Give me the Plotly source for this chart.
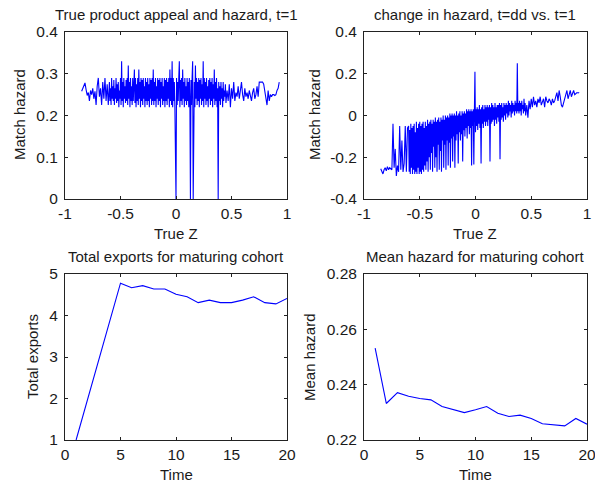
import plotly.graph_objects as go
from plotly.subplots import make_subplots

# True Z values (shared by both top panels)
true_z = [
    -0.85, -0.84, -0.83, -0.82, -0.81, -0.80, -0.79, -0.78, -0.77, -0.76,
    -0.75, -0.74, -0.73, -0.72, -0.71, -0.70, -0.69, -0.68, -0.67, -0.66,
    -0.65, -0.64, -0.63, -0.62, -0.61,
    -0.600, -0.595, -0.590, -0.585, -0.580, -0.575, -0.570, -0.565, -0.560, -0.555,
    -0.550, -0.545, -0.540, -0.535, -0.530, -0.525, -0.520, -0.515, -0.510, -0.505,
    -0.500, -0.495, -0.490, -0.485, -0.480, -0.475, -0.470, -0.465, -0.460, -0.455,
    -0.450, -0.445, -0.440, -0.435, -0.430, -0.425, -0.420, -0.415, -0.410, -0.405,
    -0.400, -0.395, -0.390, -0.385, -0.380, -0.375, -0.370, -0.365, -0.360, -0.355,
    -0.350, -0.345, -0.340, -0.335, -0.330, -0.325, -0.320, -0.315, -0.310, -0.305,
    -0.300, -0.295, -0.290, -0.285, -0.280, -0.275, -0.270, -0.265, -0.260, -0.255,
    -0.250, -0.245, -0.240, -0.235, -0.230, -0.225, -0.220, -0.215, -0.210, -0.205,
    -0.200, -0.195, -0.190, -0.185, -0.180, -0.175, -0.170, -0.165, -0.160, -0.155,
    -0.150, -0.145, -0.140, -0.135, -0.130, -0.125, -0.120, -0.115, -0.110, -0.105,
    -0.100, -0.095, -0.090, -0.085, -0.080, -0.075, -0.070, -0.065, -0.060, -0.055,
    -0.050, -0.045, -0.040, -0.035, -0.030, -0.025, -0.020, -0.015, -0.010, -0.005,
    0.000, 0.005, 0.010, 0.015, 0.020, 0.025, 0.030, 0.035, 0.040, 0.045,
    0.050, 0.055, 0.060, 0.065, 0.070, 0.075, 0.080, 0.085, 0.090, 0.095,
    0.100, 0.105, 0.110, 0.115, 0.120, 0.125, 0.130, 0.135, 0.140, 0.145,
    0.150, 0.155, 0.160, 0.165, 0.170, 0.175, 0.180, 0.185, 0.190, 0.195,
    0.200, 0.205, 0.210, 0.215, 0.220, 0.225, 0.230, 0.235, 0.240, 0.245,
    0.250, 0.255, 0.260, 0.265, 0.270, 0.275, 0.280, 0.285, 0.290, 0.295,
    0.300, 0.305, 0.310, 0.315, 0.320, 0.325, 0.330, 0.335, 0.340, 0.345,
    0.350, 0.355, 0.360, 0.365, 0.370, 0.375, 0.380, 0.385, 0.390, 0.395,
    0.400, 0.405, 0.410, 0.415, 0.420, 0.425, 0.430, 0.435, 0.440, 0.445, 0.450,
    0.46, 0.47, 0.48, 0.49, 0.50, 0.51, 0.52, 0.53, 0.54, 0.55,
    0.56, 0.57, 0.58, 0.59, 0.60, 0.61, 0.62, 0.63, 0.64, 0.65,
    0.66, 0.67, 0.68, 0.69, 0.70, 0.71, 0.72, 0.73, 0.74, 0.75,
    0.76, 0.77, 0.78, 0.79, 0.80, 0.81, 0.82, 0.83, 0.84, 0.85,
    0.86, 0.87, 0.88, 0.89, 0.90, 0.91, 0.92, 0.93,
]

# match hazard at t=1
hazard_t1 = [
    0.258, 0.265, 0.272, 0.278, 0.262, 0.248, 0.255, 0.235, 0.26, 0.25,
    0.265, 0.24, 0.258, 0.225, 0.27, 0.29, 0.245, 0.265, 0.225, 0.28,
    0.24, 0.29, 0.235, 0.275, 0.225,
    0.28, 0.235, 0.265, 0.225, 0.29, 0.24, 0.27, 0.235, 0.285, 0.225,
    0.265, 0.24, 0.29, 0.23, 0.275, 0.235, 0.28, 0.22, 0.26, 0.24,
    0.29, 0.225, 0.33, 0.235, 0.28, 0.22, 0.29, 0.24, 0.27, 0.23,
    0.285, 0.235, 0.29, 0.225, 0.32, 0.24, 0.28, 0.22, 0.29, 0.235,
    0.27, 0.225, 0.29, 0.235, 0.28, 0.31, 0.23, 0.29, 0.22, 0.275,
    0.235, 0.29, 0.225, 0.31, 0.24, 0.28, 0.22, 0.29, 0.235, 0.285,
    0.225, 0.29, 0.24, 0.27, 0.22, 0.29, 0.235, 0.28, 0.225, 0.29,
    0.235, 0.275, 0.22, 0.29, 0.24, 0.285, 0.225, 0.29, 0.235, 0.31,
    0.225, 0.28, 0.235, 0.29, 0.22, 0.27, 0.24, 0.29, 0.225, 0.285,
    0.235, 0.29, 0.22, 0.28, 0.24, 0.29, 0.225, 0.27, 0.235, 0.29,
    0.22, 0.285, 0.235, 0.29, 0.225, 0.28, 0.24, 0.29, 0.22, 0.31,
    0.235, 0.29, 0.225, 0.33, 0.22, 0.29, 0.235, 0.28, 0.22, 0.0,
    0.0, 0.29, 0.225, 0.28, 0.235, 0.29, 0.33, 0.22, 0.285, 0.235,
    0.29, 0.225, 0.31, 0.24, 0.28, 0.22, 0.29, 0.235, 0.27, 0.225,
    0.29, 0.235, 0.28, 0.22, 0.29, 0.24, 0.0, 0.285, 0.225, 0.29,
    0.33, 0.0, 0.235, 0.28, 0.22, 0.32, 0.24, 0.29, 0.225, 0.28,
    0.235, 0.29, 0.22, 0.285, 0.24, 0.29, 0.225, 0.275, 0.235, 0.33,
    0.22, 0.29, 0.24, 0.28, 0.225, 0.29, 0.235, 0.27, 0.22, 0.285,
    0.24, 0.29, 0.225, 0.28, 0.235, 0.29, 0.22, 0.275, 0.24, 0.31,
    0.225, 0.28, 0.235, 0.29, 0.22, 0.265, 0.0, 0.28, 0.235, 0.27,
    0.225, 0.28, 0.24, 0.265, 0.22, 0.28, 0.235, 0.26, 0.245, 0.275, 0.23,
    0.26, 0.235, 0.275, 0.22, 0.265, 0.24, 0.28, 0.235, 0.255, 0.245,
    0.27, 0.24, 0.26, 0.28, 0.25, 0.235, 0.265, 0.245, 0.255, 0.24,
    0.26, 0.25, 0.235, 0.255, 0.265, 0.24, 0.25, 0.27, 0.245, 0.28,
    0.28, 0.28, 0.28, 0.275, 0.255, 0.245, 0.225, 0.26, 0.235, 0.25,
    0.245, 0.25, 0.25, 0.248, 0.25, 0.26, 0.265, 0.28,
]

# change in hazard, t=dd vs. t=1
hazard_change = [
    -0.255, -0.265, -0.28, -0.26, -0.25, -0.265, -0.245, -0.26, -0.25, -0.255,
    -0.26, -0.04, -0.25, -0.16, -0.29, -0.24, -0.27, -0.05, -0.26, -0.12,
    -0.27, -0.23, -0.05, -0.27, -0.06,
    -0.05, -0.27, -0.07, -0.28, -0.04, -0.25, -0.06, -0.28, -0.05, -0.26,
    -0.04, -0.28, -0.08, -0.27, -0.03, -0.28, -0.06, -0.25, -0.04, -0.28,
    -0.03, -0.27, -0.05, -0.28, -0.04, -0.26, -0.03, -0.27, -0.06, -0.24,
    -0.03, -0.26, -0.05, -0.22, -0.02, -0.27, -0.04, -0.2, -0.03, -0.26,
    -0.02, -0.18, -0.04, -0.27, -0.02, -0.15, -0.03, -0.25, -0.01, -0.2,
    -0.03, -0.27, -0.02, -0.14, -0.01, -0.26, -0.03, -0.17, -0.01, -0.27,
    -0.02, -0.12, 0.0, -0.25, -0.02, -0.14, 0.0, -0.26, -0.01, -0.12,
    0.0, -0.24, -0.01, -0.13, 0.01, -0.25, 0.0, -0.11, 0.01, -0.22,
    0.0, -0.1, 0.01, -0.25, 0.0, -0.12, 0.02, -0.09, 0.0, -0.23,
    0.01, -0.08, 0.02, -0.12, 0.0, -0.09, 0.02, -0.22, 0.01, -0.07,
    0.02, -0.1, 0.01, -0.06, 0.03, -0.11, 0.02, -0.05, 0.03, -0.09,
    0.02, -0.06, 0.03, -0.24, 0.02, -0.05, 0.03, -0.235, 0.02, 0.21,
    -0.08, 0.03, -0.05, 0.04, -0.07, 0.03, -0.04, 0.05, -0.06, 0.03,
    -0.23, 0.04, -0.04, 0.05, -0.06, 0.03, -0.03, 0.05, -0.05, 0.04,
    -0.03, 0.05, -0.05, 0.04, -0.02, 0.05, -0.22, 0.04, -0.04, 0.06,
    -0.03, 0.05, -0.02, 0.04, -0.05, 0.06, -0.02, 0.04, -0.04, 0.05,
    -0.01, 0.05, -0.03, 0.06, -0.21, 0.05, -0.02, 0.06, -0.01, 0.04,
    -0.03, 0.06, 0.0, 0.05, -0.02, 0.06, 0.01, 0.05, -0.01, 0.07,
    0.0, 0.06, 0.02, 0.05, -0.01, 0.07, 0.01, 0.06, 0.02, 0.05,
    0.0, 0.07, 0.02, 0.06, 0.01, 0.25, 0.02, 0.06, 0.01, 0.07,
    0.02, 0.06, 0.0, 0.07, 0.03, 0.05, 0.01, 0.08, 0.02, 0.06, 0.0,
    0.05, -0.01, 0.07, 0.03, 0.08, 0.04, 0.09, 0.05, 0.07, 0.04,
    0.08, 0.06, 0.09, 0.05, 0.07, 0.08, 0.04, 0.09, 0.07, 0.06,
    0.08, 0.07, 0.05, 0.08, 0.06, 0.07, 0.09, 0.11, 0.07, 0.12,
    0.09, 0.05, 0.04, 0.06, 0.07, 0.09, 0.12, 0.08, 0.1, 0.12,
    0.09, 0.11, 0.12, 0.1, 0.105, 0.11, 0.108, 0.11,
]

time = list(range(1, 21))
total_exports = [1.0, 1.95, 2.9, 3.85, 4.78, 4.67, 4.72, 4.64, 4.64, 4.51,
                 4.45, 4.31, 4.37, 4.31, 4.31, 4.37, 4.45, 4.31, 4.28, 4.41]
mean_hazard = [0.2532, 0.2332, 0.2371, 0.2358, 0.2350, 0.2345, 0.2321, 0.2309, 0.2299, 0.2309,
               0.2321, 0.2297, 0.2285, 0.2290, 0.2278, 0.2259, 0.2256, 0.2251, 0.2278, 0.2257]

W, H = 595, 484
LINE = "#0000ff"
FONT = "Liberation Sans"
TXT = "#1a1a1a"


def px_x(p):
    return p / W


def px_y(p):
    return 1 - p / H


def axis_style(rng, ticks, standoff=0):
    return dict(
        range=rng, tickvals=ticks, ticktext=[f"{t:g}" for t in ticks],
        showline=True, linecolor="#222222", linewidth=1, mirror="ticks",
        ticks="inside", ticklen=3, tickcolor="#222222", showgrid=False,
        zeroline=False, tickfont=dict(family=FONT, size=15.5, color=TXT),
        fixedrange=True, automargin=False, ticklabeloverflow="allow",
        ticklabelstandoff=standoff,
    )


fig = make_subplots(rows=2, cols=2)

fig.add_trace(go.Scatter(x=true_z, y=hazard_t1, mode="lines",
                         line=dict(color=LINE, width=1.1)), row=1, col=1)
fig.add_trace(go.Scatter(x=true_z, y=hazard_change, mode="lines",
                         line=dict(color=LINE, width=1.1)), row=1, col=2)
fig.add_trace(go.Scatter(x=time, y=total_exports, mode="lines",
                         line=dict(color=LINE, width=1.1)), row=2, col=1)
fig.add_trace(go.Scatter(x=time, y=mean_hazard, mode="lines",
                         line=dict(color=LINE, width=1.1)), row=2, col=2)

left = [px_x(65), px_x(287)]
right = [px_x(364), px_x(587)]
top = [px_y(199), px_y(32)]
bottom = [px_y(440), px_y(274)]

fig.update_layout(
    xaxis=dict(domain=left, **axis_style([-1, 1], [-1, -0.5, 0, 0.5, 1])),
    yaxis=dict(domain=top, **axis_style([0, 0.4], [0, 0.1, 0.2, 0.3, 0.4], 3)),
    xaxis2=dict(domain=right, **axis_style([-1, 1], [-1, -0.5, 0, 0.5, 1])),
    yaxis2=dict(domain=top, **axis_style([-0.4, 0.4], [-0.4, -0.2, 0, 0.2, 0.4], 3)),
    xaxis3=dict(domain=left, **axis_style([0, 20], [0, 5, 10, 15, 20])),
    yaxis3=dict(domain=bottom, **axis_style([1, 5], [1, 2, 3, 4, 5], 3)),
    xaxis4=dict(domain=right, **axis_style([0, 20], [0, 5, 10, 15, 20])),
    yaxis4=dict(domain=bottom, **axis_style([0.22, 0.28], [0.22, 0.24, 0.26, 0.28], 3)),
)

# labels placed in pixel positions
labels = [
    ("True product appeal and hazard, t=1", 176, 14, 0),
    ("change in hazard, t=dd vs. t=1", 475, 14, 0),
    ("Total exports for maturing cohort", 176, 256, 0),
    ("Mean hazard for maturing cohort", 475, 256, 0),
    ("True Z", 176, 233, 0),
    ("True Z", 475, 233, 0),
    ("Time", 176, 474, 0),
    ("Time", 475, 474, 0),
    ("Match hazard", 19, 115, -90),
    ("Match hazard", 314, 115, -90),
    ("Total exports", 32, 357, -90),
    ("Mean hazard", 309, 357, -90),
]
for text, x, y, ang in labels:
    fig.add_annotation(text=text, x=px_x(x), y=px_y(y), xref="paper", yref="paper",
                       xanchor="center", yanchor="middle", showarrow=False,
                       textangle=ang, font=dict(family=FONT, size=15, color=TXT))

fig.update_layout(
    width=W, height=H, showlegend=False,
    margin=dict(l=0, r=0, t=0, b=0, autoexpand=False),
    plot_bgcolor="white", paper_bgcolor="white",
)

# drop the default page margin so the figure sits at the window corner
fig.write_html("out.html", config={"displayModeBar": False},
               post_script="document.body.style.margin='0';")
